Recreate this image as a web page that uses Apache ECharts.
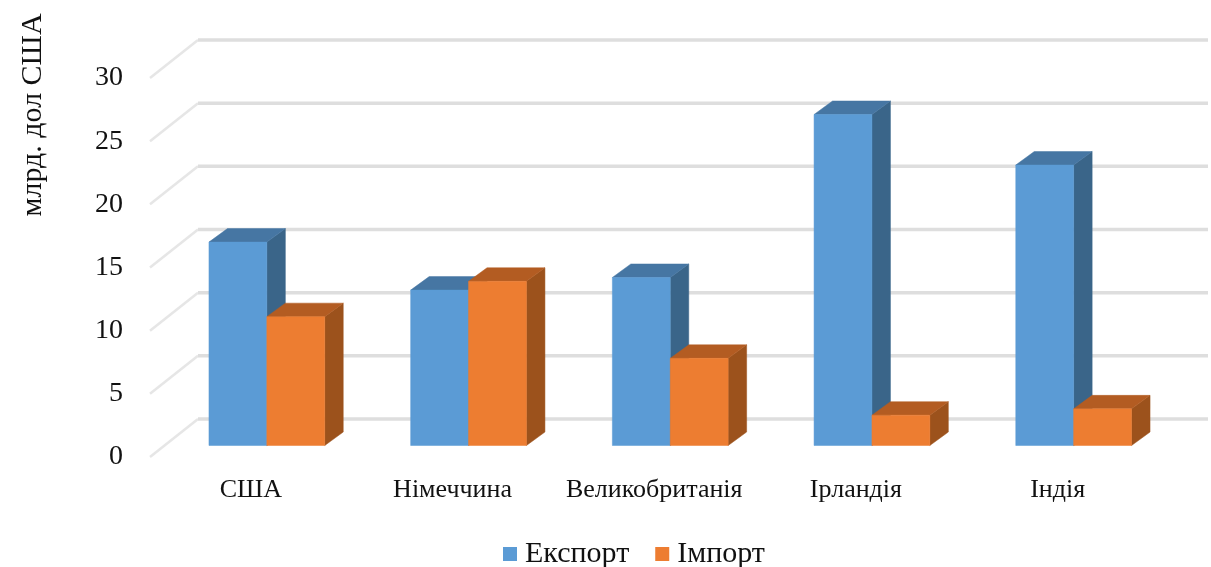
<!DOCTYPE html>
<html><head><meta charset="utf-8">
<script src="https://cdn.jsdelivr.net/npm/echarts@6/dist/echarts.min.js"></script>
<style>html,body{margin:0;padding:0;background:#fff}#c{width:1211px;height:567px}</style>
</head><body><div id="c"></div>
<script>
const categories = ['США','Німеччина','Великобританія','Ірландія','Індія'];
const exportValues = [16.1, 12.3, 13.3, 26.2, 22.2];
const importValues = [10.2, 13.0, 6.9, 2.4, 2.9];
const gridValues = [0,5,10,15,20,25,30];
const FONT = '"Liberation Serif","Times New Roman",serif';

// oblique projection offsets (px) of the depth axis
const WALL = [48,-38], BAR_FRONT = [16,-11.5], BAR_BACK = [34.5,-25];
const BAR_RATIO = 0.287;

function gridItem(params, api){
  const v = api.value(1);
  const p = api.coord([0,v]);
  const band = api.size([1,0])[0];
  const xl = p[0]-band/2, xr = xl+band*5+1.5;
  return {type:'group',silent:true,children:[
    {type:'polyline',shape:{points:[[xl,p[1]],[xl+WALL[0],p[1]+WALL[1]]]},style:{fill:'none',stroke:'#E6E6E6',lineWidth:2.5}},
    {type:'polyline',shape:{points:[[xl+WALL[0],p[1]+WALL[1]],[xr+WALL[0],p[1]+WALL[1]]]},style:{fill:'none',stroke:'#DEDEDE',lineWidth:3.5}}
  ]};
}
function barRenderer(side, cols){
  return function(params, api){
    const i = api.value(0), v = api.value(1);
    const top = api.coord([i,v]), base = api.coord([i,0]);
    const w = api.size([1,0])[0]*BAR_RATIO;
    const x0 = top[0]+BAR_FRONT[0]+(side<0?-w:0), x1 = x0+w;
    const yT = top[1]+BAR_FRONT[1], yB = base[1]+BAR_FRONT[1];
    const dx = BAR_BACK[0]-BAR_FRONT[0], dy = BAR_BACK[1]-BAR_FRONT[1];
    const poly = (pts,c)=>({type:'polygon',shape:{points:pts},style:{fill:c,stroke:c,lineWidth:0.5}});
    return {type:'group',children:[
      poly([[x1,yT],[x1+dx,yT+dy],[x1+dx,yB+dy],[x1,yB]],cols[2]),
      poly([[x0,yT],[x0+dx,yT+dy],[x1+dx,yT+dy],[x1,yT]],cols[1]),
      poly([[x0,yT],[x1,yT],[x1,yB],[x0,yB]],cols[0])
    ]};
  };
}
const chart = echarts.init(document.getElementById('c'),null,{renderer:'canvas'});
chart.setOption({
  animation:false,
  backgroundColor:'#fff',
  grid:{left:150,width:1008.5,top:78,height:379,containLabel:false},
  xAxis:{type:'category',data:categories,axisLine:{show:false},axisTick:{show:false},
    axisLabel:{color:'#111',fontFamily:FONT,fontSize:26,margin:20,interval:0}},
  yAxis:{type:'value',min:0,max:30,interval:5,axisLine:{show:false},axisTick:{show:false},splitLine:{show:false},
    axisLabel:{color:'#111',fontFamily:FONT,fontSize:28,margin:27}},
  legend:{left:498,top:534,itemWidth:14,itemHeight:14,itemGap:26,icon:'rect',
    textStyle:{fontFamily:FONT,fontSize:30,color:'#111',padding:[0,0,0,3]},
    data:['Експорт','Імпорт']},
  graphic:[{type:'text',x:33,y:115,rotation:Math.PI/2,
    style:{text:'млрд. дол США',fontFamily:FONT,fontSize:30,fill:'#111',textAlign:'center',textVerticalAlign:'middle'}}],
  series:[
    {type:'custom',name:'grid',silent:true,z:1,clip:false,renderItem:gridItem,encode:{x:0,y:1},
     data:gridValues.map(v=>[0,v])},
    {type:'custom',name:'Експорт',z:2,clip:false,itemStyle:{color:'#5B9BD5'},
     renderItem:barRenderer(-1,['#5B9BD5','#4676A3','#3A6589']),encode:{x:0,y:1},
     data:exportValues.map((v,i)=>[i,v])},
    {type:'custom',name:'Імпорт',z:3,clip:false,itemStyle:{color:'#ED7D31'},
     renderItem:barRenderer(1,['#ED7D31','#B35C22','#9C521C']),encode:{x:0,y:1},
     data:importValues.map((v,i)=>[i,v])}
  ]
});
</script></body></html>
